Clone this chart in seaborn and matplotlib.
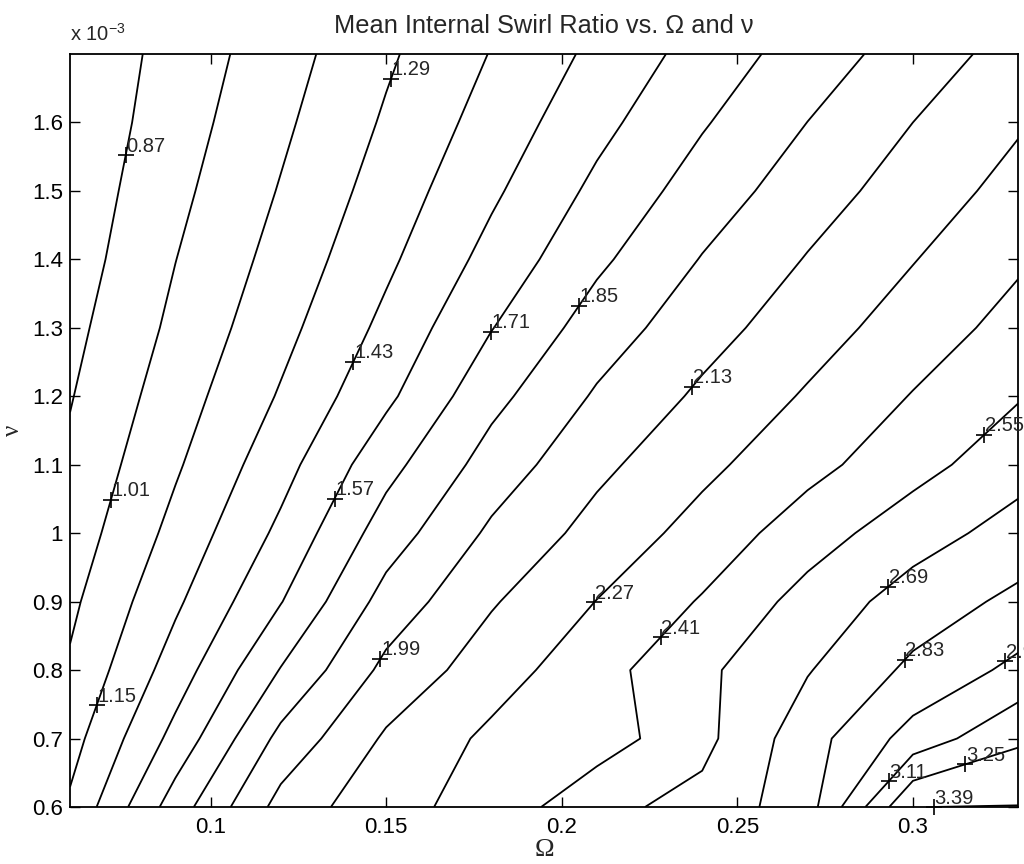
import numpy as np
import matplotlib
matplotlib.use("Agg")
import matplotlib.pyplot as plt
import seaborn as sns
from matplotlib.ticker import FuncFormatter

# grid of the measurements
omega = [0.06, 0.09, 0.12, 0.15, 0.18, 0.21, 0.24, 0.27, 0.30, 0.33]
nu = [0.6e-3, 0.7e-3, 0.8e-3, 0.9e-3, 1.0e-3, 1.1e-3, 1.2e-3, 1.3e-3, 1.4e-3, 1.5e-3, 1.6e-3, 1.7e-3]

# mean internal swirl ratio, one row per nu value
swirl_060 = [1.172, 1.640, 2.040, 2.229, 2.319, 2.512, 2.595, 2.770, 3.389, 3.394]
swirl_070 = [1.097, 1.475, 1.890, 2.150, 2.300, 2.340, 2.510, 2.772, 3.025, 3.228]
swirl_080 = [1.028, 1.356, 1.717, 2.027, 2.205, 2.359, 2.520, 2.681, 2.860, 3.006]
swirl_090 = [0.981, 1.266, 1.564, 1.904, 2.117, 2.273, 2.422, 2.601, 2.752, 2.864]
swirl_100 = [0.933, 1.192, 1.461, 1.778, 2.016, 2.179, 2.322, 2.484, 2.630, 2.744]
swirl_110 = [0.896, 1.132, 1.377, 1.663, 1.910, 2.097, 2.236, 2.366, 2.499, 2.637]
swirl_120 = [0.862, 1.084, 1.303, 1.540, 1.808, 2.007, 2.155, 2.285, 2.417, 2.540]
swirl_130 = [0.831, 1.041, 1.246, 1.465, 1.705, 1.916, 2.075, 2.208, 2.335, 2.460]
swirl_140 = [0.800, 1.008, 1.199, 1.402, 1.616, 1.822, 1.997, 2.138, 2.264, 2.390]
swirl_150 = [0.780, 0.975, 1.159, 1.351, 1.546, 1.742, 1.914, 2.065, 2.195, 2.318]
swirl_160 = [0.761, 0.946, 1.123, 1.307, 1.486, 1.669, 1.837, 1.991, 2.130, 2.255]
swirl_170 = [0.752, 0.923, 1.090, 1.268, 1.436, 1.603, 1.766, 1.915, 2.054, 2.187]

levels = [0.87, 1.01, 1.15, 1.29, 1.43, 1.57, 1.71, 1.85, 1.99, 2.13,
          2.27, 2.41, 2.55, 2.69, 2.83, 2.97, 3.11, 3.25, 3.39]

# rough spot of each clabel "+" (omega, nu*1e3), snapped onto its contour below
label_spots = [(0.0761, 1.552), (0.0715, 1.049), (0.0675, 0.749), (0.1513, 1.664),
               (0.1408, 1.250), (0.1359, 1.049), (0.1798, 1.295), (0.2040, 1.335),
               (0.1473, 0.820), (0.2368, 1.215), (0.2092, 0.899), (0.2283, 0.847),
               (0.3200, 1.145), (0.2921, 0.928), (0.2970, 0.818), (0.3264, 0.812),
               (0.2930, 0.638), (0.3150, 0.661), (0.3000, 0.601)]

xticks = [0.1, 0.15, 0.2, 0.25, 0.3]
yticks = [0.6e-3, 0.7e-3, 0.8e-3, 0.9e-3, 1.0e-3, 1.1e-3, 1.2e-3, 1.3e-3, 1.4e-3, 1.5e-3, 1.6e-3]


def snap(path, x, y, sx, sy):
    # closest point on the contour path, measured in screen-ish units
    best, bd = (x, y), np.inf
    for poly in path.to_polygons(closed_only=False):
        p = np.asarray(poly)
        for a, b in zip(p[:-1], p[1:]):
            ax_, ay_ = a[0] * sx, a[1] * sy
            bx_, by_ = b[0] * sx, b[1] * sy
            dx, dy = bx_ - ax_, by_ - ay_
            L = dx * dx + dy * dy
            t = 0.0 if L == 0 else np.clip(((x * sx - ax_) * dx + (y * sy - ay_) * dy) / L, 0, 1)
            qx, qy = ax_ + t * dx, ay_ + t * dy
            d = (qx - x * sx) ** 2 + (qy - y * sy) ** 2
            if d < bd:
                bd, best = d, (qx / sx, qy / sy)
    return best


if __name__ == "__main__":

    sns.set_style("ticks")
    plt.rcParams["font.family"] = ["Liberation Sans", "DejaVu Sans"]
    plt.rcParams["axes.linewidth"] = 1.3

    Z = np.array([swirl_060, swirl_070, swirl_080, swirl_090, swirl_100, swirl_110,
                  swirl_120, swirl_130, swirl_140, swirl_150, swirl_160, swirl_170])

    fig = plt.figure(figsize=(10.24, 8.64), dpi=100)
    ax = fig.add_axes([0.0684, 0.066, 0.926, 0.8715])

    cs = ax.contour(omega, nu, Z, levels=levels, colors="k", linewidths=1.3)

    sx, sy = 948 / 0.27, 753 / 1.1e-3
    paths = cs.get_paths()
    for lev, path, (lx, ly) in zip(levels, paths, label_spots):
        px, py = snap(path, lx, ly * 1e-3, sx, sy)
        ax.plot(px, py, marker="+", color="k", ms=11, mew=1.2, clip_on=False)
        ax.annotate(f"{lev:.2f}", xy=(px, py), xytext=(0.5, 2.5), textcoords="offset points",
                    ha="left", va="baseline", fontsize=14.5, annotation_clip=False)

    ax.set_xlim(0.06, 0.33)
    ax.set_ylim(0.6e-3, 1.7e-3)
    ax.set_xticks(xticks)
    ax.set_yticks(yticks)
    ax.xaxis.set_major_formatter(FuncFormatter(lambda v, _: f"{v:g}"))
    ax.yaxis.set_major_formatter(FuncFormatter(lambda v, _: f"{round(v * 1e3, 2):g}"))
    ax.tick_params(which="both", direction="in", top=True, right=True, length=7.5,
                   width=1.0, labelsize=16, color="k", labelcolor="k")
    ax.tick_params(axis="x", pad=7)
    ax.tick_params(axis="y", pad=5)
    for s in ax.spines.values():
        s.set_visible(True)
        s.set_color("k")

    ax.text(0.0, 1.012, r"x 10$^{\mathregular{-3}}$", transform=ax.transAxes,
            fontsize=14.5, ha="left", va="bottom")
    ax.set_title("Mean Internal Swirl Ratio vs. \u03a9 and \u03bd", fontsize=18.3, pad=15)
    ax.set_xlabel("\u03a9", fontsize=19, family=["Liberation Serif", "DejaVu Serif"], labelpad=1)
    ax.set_ylabel("\u03bd", fontsize=18, family=["Liberation Serif", "DejaVu Serif"], labelpad=6)

    fig.savefig("out.png", dpi=100)
    plt.close()
